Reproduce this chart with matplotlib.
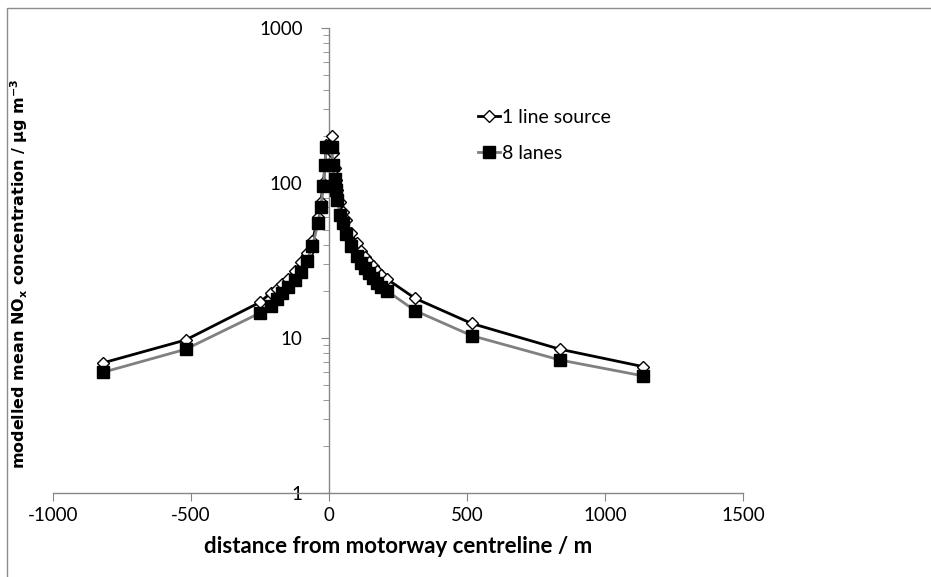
import numpy as np
import matplotlib
matplotlib.use("Agg")
import matplotlib.pyplot as plt
from matplotlib.patches import Rectangle
from matplotlib.ticker import LogLocator, NullFormatter

# distances from centreline (m)
dist = [-820, -520, -250, -210, -190, -170, -150, -125, -100, -80, -60, -40, -30, -20, -15, -10,
        10, 15, 20, 25, 30, 40, 50, 60, 80, 100, 115, 130, 145, 160, 175, 190, 210,
        312, 517, 837, 1139]

# modelled NOx, one line source
line_source = [6.9, 9.7, 17.0, 19.6, 20.8, 22.3, 24.0, 27.0, 31.0, 35.5, 42.0, 60.0, 75.0, 100.0, 130.0, 175.0,
               200.0, 155.0, 125.0, 105.0, 90.0, 75.0, 65.0, 58.0, 47.5, 41.0, 36.5, 33.5, 31.0, 29.0, 27.2, 25.6, 24.0,
               18.0, 12.4, 8.46, 6.53]

# modelled NOx, 8 lanes
eight_lanes = [6.0, 8.45, 14.5, 16.1, 17.8, 19.4, 21.2, 23.7, 26.8, 31.5, 39.0, 55.0, 70.0, 95.0, 130.0, 170.0,
               170.0, 130.0, 106.0, 90.0, 78.0, 62.0, 55.5, 47.0, 39.0, 34.0, 30.3, 28.2, 26.2, 24.3, 22.7, 21.4, 20.1,
               15.0, 10.35, 7.21, 5.69]

plt.rcParams['font.family'] = ['Lato', 'DejaVu Sans']

fig = plt.figure(figsize=(9.31, 5.77), dpi=100)
ax = fig.add_axes([0.057, 0.1456, 0.741, 0.806])

# thin frame round the chart area (only top and left show)
fig.patches.append(Rectangle((7/931, -0.1), 1.2, 1 - 8/577 + 0.1, transform=fig.transFigure,
                             fill=False, edgecolor='#8c8c8c', linewidth=1.0))

ax.plot(dist, line_source, color='black', lw=2, marker='D', markersize=6.5,
        markerfacecolor='white', markeredgecolor='black', markeredgewidth=1, label='1 line source', zorder=3)
ax.plot(dist, eight_lanes, color='#808080', lw=2, marker='s', markersize=8,
        markerfacecolor='black', markeredgecolor='black', label='8 lanes', zorder=4)

ax.set_yscale('log')
ax.set_ylim(1, 1000)
ax.set_xlim(-1000, 1500)
ax.set_xticks([-1000, -500, 0, 500, 1000, 1500])
ax.set_xticklabels(['-1000', '-500', '0', '500', '1000', '1500'])
ax.set_yticks([1, 10, 100, 1000])
ax.set_yticklabels(['1', '10', '100', '1000'])
ax.yaxis.set_minor_locator(LogLocator(base=10, subs=np.arange(2, 10)))
ax.yaxis.set_minor_formatter(NullFormatter())

ax.spines['left'].set_position(('data', 0))
ax.spines['top'].set_visible(False)
ax.spines['right'].set_visible(False)
for s in ['left', 'bottom']:
    ax.spines[s].set_color('#868686')
    ax.spines[s].set_linewidth(1.0)

ax.tick_params(axis='both', which='major', direction='out', length=6, color='#868686',
               labelsize=13.5, pad=4)
ax.tick_params(axis='y', which='minor', direction='out', length=4, color='#868686')
ax.tick_params(axis='y', which='major', pad=13)

ax.set_xlabel('distance from motorway centreline / m', fontsize=16, fontweight='bold', labelpad=9)
fig.text(0.021, 0.525, r'modelled mean NO$_\mathregular{x}$ concentration / µg m$^\mathregular{-3}$',
         rotation=90, fontsize=11.5, fontweight='bold', family='DejaVu Sans', ha='center', va='center')

ax.legend(loc='upper left', bbox_to_anchor=(0.605, 0.842), frameon=False, fontsize=14,
          handlelength=1.1, handletextpad=0.1, labelspacing=0.95, borderaxespad=0)

fig.savefig('out.png', dpi=100)
